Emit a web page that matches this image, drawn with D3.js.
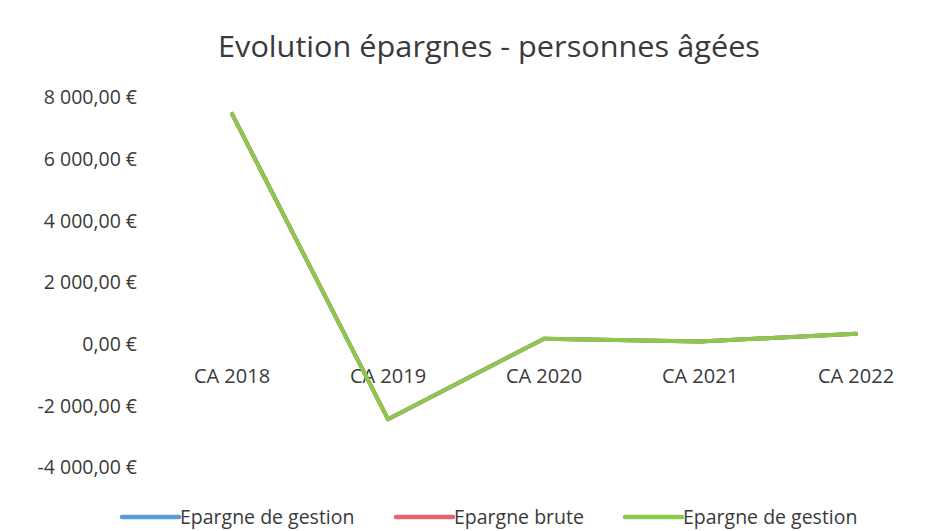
<!DOCTYPE html>
<html>
<head>
<meta charset="utf-8">
<script src="https://cdn.jsdelivr.net/npm/d3@7"></script>
<style>
  body { margin: 0; background: #fff; }
  text { font-family: "Open Sans", "Noto Sans", sans-serif; fill: #3a3a3a; }
</style>
</head>
<body>
<div id="chart"></div>
<script>
////////////////////////////////////////////////////////////////////////
// data
let categories = ["CA 2018", "CA 2019", "CA 2020", "CA 2021", "CA 2022"];
// blue and red series sit under the green one, same values
let epargneGestion = [7450, -2450, 160, 70, 320];
let epargneBrute = [7450, -2450, 160, 70, 320];
let epargneGestion2 = [7450, -2450, 160, 70, 320];
let yTicks = [-4000, -2000, 0, 2000, 4000, 6000, 8000];
let seriesNames = ["Epargne de gestion", "Epargne brute", "Epargne de gestion"];
let seriesColors = ["#5b9bd5", "#e06474", "#8cc84b"];

////////////////////////////////////////////////////////////////////////
// svg
let width = 951;
let height = 531;

let svg = d3.select("#chart")
  .append("svg")
  .attr("width", width).attr("height", height);

let xScale = d3.scaleBand()
  .domain(categories)
  .range([154, 934]);

let yScale = d3.scaleLinear()
  .domain([-4000, 8000])
  .range([467, 97]);

// title
svg.append("text")
  .attr("x", 489).attr("y", 57)
  .attr("text-anchor", "middle")
  .attr("font-size", 30)
  .attr("textLength", 542)
  .attr("lengthAdjust", "spacingAndGlyphs")
  .text("Evolution épargnes - personnes âgées");

// y axis labels, french formatting
let fmt = function(v) {
  let s = Math.abs(v).toFixed(0).replace(/\B(?=(\d{3})+(?!\d))/g, " ");
  return (v < 0 ? "-" : "") + s + ",00 €";
};

let yAxis = d3.axisLeft(yScale)
  .tickValues(yTicks)
  .tickFormat(fmt)
  .tickSize(0)
  .tickPadding(0);

let gy = svg.append("g")
  .attr("transform", "translate(137,0)")
  .call(yAxis);
gy.select(".domain").remove();
gy.selectAll("text")
  .attr("font-size", 19.5)
  .attr("fill", "#3a3a3a")
  .style("font-family", "'Open Sans', sans-serif")
  .attr("dy", "0.35em");

// category labels sit just under the zero line
let xAxis = d3.axisBottom(xScale).tickSize(0).tickPadding(0);
let gx = svg.append("g")
  .attr("transform", "translate(0," + (yScale(0) + 39) + ")")
  .call(xAxis);
gx.select(".domain").remove();
gx.selectAll("text")
  .attr("font-size", 20)
  .attr("fill", "#3a3a3a")
  .style("font-family", "'Open Sans', sans-serif")
  .attr("dy", 0);

// lines
let allSeries = [epargneGestion, epargneBrute, epargneGestion2];
let line = d3.line()
  .x(function(d, i) { return xScale(categories[i]) + xScale.bandwidth() / 2; })
  .y(function(d) { return yScale(d); });

svg.append("g")
  .selectAll(".serie")
  .data(allSeries)
  .enter()
  .append("path")
  .attr("class", "serie")
  .attr("d", line)
  .attr("fill", "none")
  .attr("stroke", function(d, i) { return seriesColors[i]; })
  .attr("stroke-width", 4)
  .attr("stroke-linejoin", "round")
  .attr("stroke-linecap", "round");

// legend
let legendX = [122, 396, 625];
let leg = svg.append("g")
  .selectAll(".legend")
  .data(seriesNames)
  .enter()
  .append("g")
  .attr("class", "legend")
  .attr("transform", function(d, i) { return "translate(" + legendX[i] + ",517)"; });

leg.append("line")
  .attr("x1", 0).attr("x2", 57)
  .attr("stroke", function(d, i) { return seriesColors[i]; })
  .attr("stroke-width", 4.5)
  .attr("stroke-linecap", "round");

leg.append("text")
  .attr("x", 58)
  .attr("dy", "0.35em")
  .attr("font-size", 19.5)
  .text(function(d) { return d; });
</script>
</body>
</html>
